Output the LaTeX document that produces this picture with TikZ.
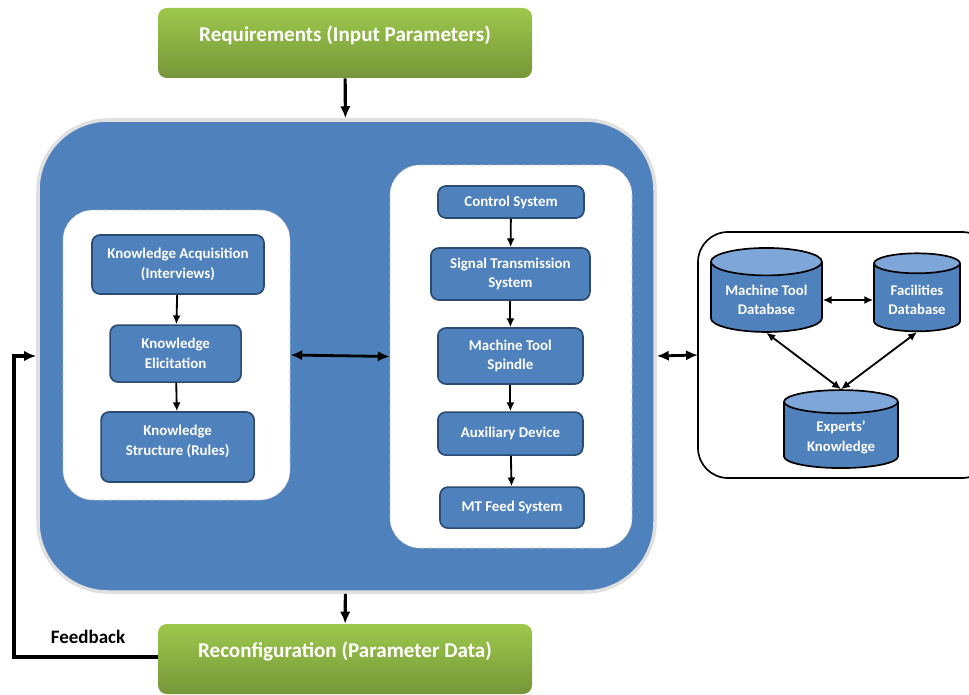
\documentclass[tikz,border=0pt]{standalone}
\usepackage{fontspec}
\setmainfont{Carlito}
\usetikzlibrary{shapes.geometric,arrows.meta}

\definecolor{boxblue}{HTML}{4F81BD}
\definecolor{boxline}{HTML}{2B4B72}
\definecolor{dbtop}{HTML}{7EA6D8}
\definecolor{greentop}{HTML}{9DC84B}
\definecolor{greenbot}{HTML}{76963A}

\tikzset{
  unit/.style={draw=boxline, line width=1.2pt, fill=boxblue, rounded corners=0.2cm,
    text=white, align=center, font=\bfseries\fontsize{10.6}{14}\selectfont},
  iobox/.style={top color=greentop, bottom color=greenbot, rounded corners=0.22cm,
    minimum width=9.35cm, minimum height=1.75cm, text depth=0.45cm, text=white,
    font=\bfseries\fontsize{15}{17}\selectfont},
  group/.style={fill=white, draw=black!25, dashed, rounded corners=0.75cm},
  db/.style={cylinder, shape border rotate=90, aspect=0.3, draw=black, line width=1.2pt,
    cylinder uses custom fill, cylinder body fill=boxblue, cylinder end fill=dbtop,
    text=white, align=center, font=\bfseries\fontsize{10.5}{14}\selectfont},
  flow/.style={-{Latex[length=2.2mm,width=2mm]}, line width=1.3pt},
  main/.style={-{Latex[length=3mm,width=2.6mm]}, line width=2.2pt},
  both/.style={{Latex[length=3mm,width=2.6mm]}-{Latex[length=3mm,width=2.6mm]}, line width=2pt},
  link/.style={{Latex[length=2.2mm,width=2mm]}-{Latex[length=2.2mm,width=2mm]}, line width=1.3pt}
}

\begin{document}
\begin{tikzpicture}
\useasboundingbox (0,0) rectangle (24.225,-17.35);

% input and output
\node[iobox] (req) at (8.625,-1.075) {Requirements (Input Parameters)};
\node[iobox] (rec) at (8.625,-16.475) {Reconfiguration (Parameter Data)};

% main block
\node[fill=boxblue, draw=black!12, line width=2.5pt, rounded corners=1.75cm,
  minimum width=15.425cm, minimum height=11.8cm] (core) at (8.6625,-8.9) {};

\node[group, minimum width=5.675cm, minimum height=7.25cm] (kbase) at (4.4125,-8.875) {};
\node[group, minimum width=6.05cm, minimum height=9.575cm] (mtool) at (12.775,-8.9125) {};

% knowledge column
\node[unit, minimum width=4.3cm, minimum height=1.475cm] (acq) at (4.45,-6.6125) {Knowledge Acquisition\\(Interviews)};
\node[unit, minimum width=3.275cm, minimum height=1.425cm] (eli) at (4.39,-8.84) {Knowledge\\Elicitation};
\node[unit, minimum width=3.825cm, minimum height=1.75cm, text depth=0.35cm] (rul) at (4.44,-11.175) {Knowledge\\Structure (Rules)};

% machine tool column
\node[unit, minimum width=3.65cm, minimum height=0.8cm] (ctl) at (12.775,-5.05) {Control System};
\node[unit, minimum width=3.975cm, minimum height=1.3cm] (sig) at (12.76,-6.85) {Signal Transmission\\System};
\node[unit, minimum width=3.625cm, minimum height=1.4cm] (spi) at (12.76,-8.9) {Machine Tool\\Spindle};
\node[unit, minimum width=3.625cm, minimum height=1.075cm] (aux) at (12.76,-10.84) {Auxiliary Device};
\node[unit, minimum width=3.6cm, minimum height=1.025cm] (fee) at (12.8,-12.69) {MT Feed System};

% databases
\draw[line width=1.2pt, rounded corners=0.75cm] (17.45,-5.8) rectangle (24.8,-11.95);
\coordinate (dbs) at (17.45,-8.875);
\node[db, minimum width=2.775cm, minimum height=2.1cm] (mtdb) at (19.16,-7.5) {Machine Tool\\Database};
\node[db, minimum width=2.15cm, minimum height=1.95cm] (fdb) at (22.925,-7.5) {Facilities\\Database};
\node[db, minimum width=2.85cm, minimum height=1.95cm] (edb) at (21.025,-10.94) {Experts’\\Knowledge};

% connectors
\draw[main] (req) -- (core);
\draw[main] (core) -- (rec);
\draw[flow] (acq) -- (eli);
\draw[flow] (eli) -- (rul);
\draw[flow] (ctl) -- (sig);
\draw[flow] (sig) -- (spi);
\draw[flow] (spi) -- (aux);
\draw[flow] (aux) -- (fee);
\draw[both] (kbase.east) -- (mtool.west);
\draw[both] (core.east) -- (dbs);
\draw[link] (mtdb) -- (fdb);
\draw[link] (mtdb.south) -- (edb.north);
\draw[link] (fdb.south) -- (edb.north);

% feedback loop
\coordinate (fb) at (0.35,-16.425);
\draw[main, rounded corners=0pt] (rec.west |- fb) -- (fb) |- (core.west);
\node[font=\bfseries\fontsize{13.5}{15}\selectfont] (fbl) at (2.2,-15.925) {Feedback};
\end{tikzpicture}
\end{document}
